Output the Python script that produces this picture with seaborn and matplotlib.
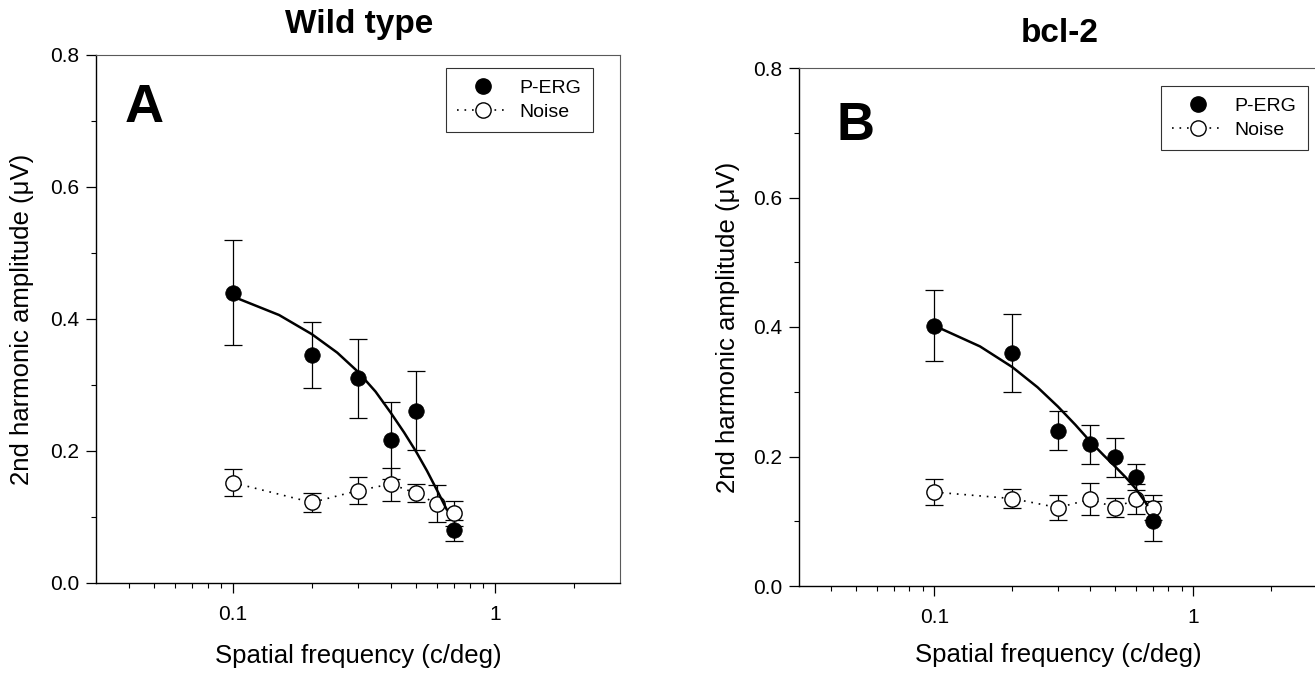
import numpy as np
import pandas as pd
import matplotlib
matplotlib.use("Agg")
import matplotlib.pyplot as plt
from matplotlib.lines import Line2D
from matplotlib.ticker import FixedLocator, NullFormatter, FormatStrFormatter
import seaborn as sns

# spatial frequencies (c/deg)
perg_freq = [0.1, 0.2, 0.3, 0.4, 0.5, 0.7]
noise_freq = [0.1, 0.2, 0.3, 0.4, 0.5, 0.6, 0.7]
bcl_freq = [0.1, 0.2, 0.3, 0.4, 0.5, 0.6, 0.7]

# wild type
wt_perg = [0.44, 0.346, 0.31, 0.216, 0.261, 0.080]
wt_perg_err = [0.08, 0.05, 0.06, 0.058, 0.06, 0.016]
wt_noise = [0.152, 0.122, 0.140, 0.150, 0.136, 0.120, 0.106]
wt_noise_err = [0.020, 0.014, 0.020, 0.025, 0.014, 0.028, 0.019]
wt_fit_x = [0.1, 0.15, 0.2, 0.25, 0.3, 0.35, 0.4, 0.45, 0.5, 0.55, 0.6, 0.655]
wt_fit_y = [0.434, 0.406, 0.377, 0.349, 0.320, 0.290, 0.258, 0.228, 0.199, 0.170, 0.141, 0.111]

# bcl-2
bcl_perg = [0.402, 0.360, 0.240, 0.219, 0.199, 0.169, 0.100]
bcl_perg_err = [0.055, 0.06, 0.03, 0.03, 0.03, 0.02, 0.031]
bcl_noise = [0.145, 0.135, 0.121, 0.134, 0.121, 0.134, 0.121]
bcl_noise_err = [0.020, 0.015, 0.019, 0.025, 0.015, 0.023, 0.019]
bcl_fit_x = [0.1, 0.15, 0.2, 0.25, 0.3, 0.35, 0.4, 0.45, 0.5, 0.55, 0.6, 0.664]
bcl_fit_y = [0.402, 0.370, 0.338, 0.307, 0.277, 0.249, 0.223, 0.202, 0.184, 0.167, 0.150, 0.125]

titles = ["Wild type", "bcl-2"]
letters = ["A", "B"]

sns.set_theme(style="ticks")
plt.rcParams["font.family"] = ["Liberation Sans", "DejaVu Sans"]
plt.rcParams["text.color"] = "black"
plt.rcParams["axes.labelcolor"] = "black"
plt.rcParams["xtick.color"] = "black"
plt.rcParams["ytick.color"] = "black"

fig = plt.figure(figsize=(13.15, 6.75), dpi=100)
ax1 = fig.add_axes([96 / 1315, 1 - 583 / 675, 524 / 1315, 528 / 675])
ax2 = fig.add_axes([799 / 1315, 1 - 586 / 675, 518 / 1315, 518 / 675])


def draw_panel(ax, px, py, pe, nx, ny, ne, fx, fy):
    ax.set_xscale("log")
    ax.errorbar(px, py, yerr=pe, fmt="none", ecolor="black", elinewidth=0.9,
                capsize=6.5, capthick=0.9, zorder=2)
    ax.errorbar(nx, ny, yerr=ne, fmt="none", ecolor="black", elinewidth=0.9,
                capsize=6.5, capthick=0.9, zorder=2)
    sns.lineplot(x=fx, y=fy, ax=ax, color="black", lw=1.8, sort=False,
                 estimator=None, zorder=4)
    sns.lineplot(x=nx, y=ny, ax=ax, color="black", lw=1.2, linestyle=(0, (1, 3.5)),
                 marker="o", markersize=11, markerfacecolor="white",
                 markeredgecolor="black", markeredgewidth=1.0, sort=False,
                 estimator=None, zorder=3)
    sns.scatterplot(x=px, y=py, ax=ax, color="black", s=125, edgecolor="black",
                    linewidth=0.5, zorder=5)

    ax.set_xlim(0.03, 3)
    ax.set_ylim(0, 0.8)
    ax.xaxis.set_major_locator(FixedLocator([0.1, 1]))
    ax.xaxis.set_minor_locator(FixedLocator(
        [0.04, 0.05, 0.06, 0.07, 0.08, 0.09, 0.2, 0.3, 0.4, 0.5, 0.6, 0.7, 0.8, 0.9, 2]))
    ax.xaxis.set_minor_formatter(NullFormatter())
    ax.set_xticklabels(["0.1", "1"])
    ax.yaxis.set_major_locator(FixedLocator([0.0, 0.2, 0.4, 0.6, 0.8]))
    ax.yaxis.set_minor_locator(FixedLocator([0.1, 0.3, 0.5, 0.7]))
    ax.yaxis.set_major_formatter(FormatStrFormatter("%.1f"))
    ax.tick_params(which="major", direction="out", length=7, width=0.9,
                   labelsize=15, color="black")
    ax.tick_params(which="minor", direction="out", length=3.5, width=0.8,
                   color="black")
    ax.tick_params(axis="x", which="major", pad=9)
    ax.tick_params(axis="y", which="major", pad=5)
    for side in ["left", "bottom"]:
        ax.spines[side].set_color("black")
        ax.spines[side].set_linewidth(1.0)
    for side in ["top", "right"]:
        ax.spines[side].set_color("0.35")
        ax.spines[side].set_linewidth(0.8)

    ax.set_xlabel("Spatial frequency (c/deg)", fontsize=18.5)
    ax.set_ylabel("2nd harmonic amplitude (\u03bcV)", fontsize=18.5)


draw_panel(ax1, perg_freq, wt_perg, wt_perg_err, noise_freq, wt_noise,
           wt_noise_err, wt_fit_x, wt_fit_y)
draw_panel(ax2, bcl_freq, bcl_perg, bcl_perg_err, bcl_freq, bcl_noise,
           bcl_noise_err, bcl_fit_x, bcl_fit_y)

ax1.yaxis.set_label_coords((34 - 96) / 524, 0.5)
ax1.xaxis.set_label_coords(0.5, (583 - 644) / 528)
ax2.yaxis.set_label_coords((740 - 799) / 518, 0.5)
ax2.xaxis.set_label_coords(0.5, (586 - 643) / 518)

fig.text(359 / 1315, 1 - 24 / 675, titles[0], ha="center", va="center",
         fontsize=24, fontweight="bold")
fig.text(1060 / 1315, 1 - 34 / 675, titles[1], ha="center", va="center",
         fontsize=24, fontweight="bold")
fig.text(144 / 1315, 1 - 108 / 675, letters[0], ha="center", va="center",
         fontsize=39, fontweight="bold")
fig.text(855 / 1315, 1 - 126 / 675, letters[1], ha="center", va="center",
         fontsize=38, fontweight="bold")

handles = [
    Line2D([], [], color="black", marker="o", linestyle="none", markersize=11),
    Line2D([], [], color="black", marker="o", linestyle=(0, (1, 3.5)), lw=1.2,
           markersize=11, markerfacecolor="white", markeredgecolor="black"),
]
for ax, anchor in [(ax1, (593 / 1315, 1 - 68 / 675)),
                   (ax2, (1308 / 1315, 1 - 86 / 675))]:
    leg = ax.legend(handles, ["P-ERG", "Noise"], loc="upper right",
                    bbox_to_anchor=anchor, bbox_transform=fig.transFigure,
                    borderaxespad=0, fontsize=14, frameon=True, fancybox=False,
                    handlelength=2.6, handletextpad=0.6, borderpad=0.6,
                    labelspacing=0.3)
    leg.get_frame().set_edgecolor("black")
    leg.get_frame().set_linewidth(0.8)

fig.savefig("out.png", dpi=100)
